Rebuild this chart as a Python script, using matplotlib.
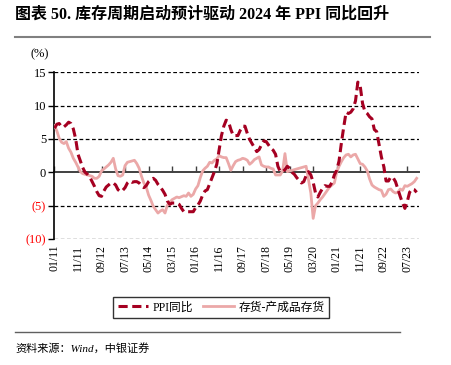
import matplotlib
matplotlib.use("Agg")
import matplotlib.pyplot as plt
import numpy as np

plt.rcParams['font.family'] = ['Liberation Serif', 'Noto Sans CJK SC']
plt.rcParams['axes.unicode_minus'] = False

# ---------------- data ----------------
start_month = "2011-01"
ppi = [6.6, 7.2, 7.3, 6.8, 6.8, 7.1, 7.5, 7.3, 6.5, 5.0, 2.7, 1.7,
       0.7, 0.0, -0.3, -0.7, -1.4, -2.1, -2.9, -3.5, -3.6, -2.8, -2.2, -1.9,
       -1.6, -1.6, -1.9, -2.6, -2.9, -2.7, -2.3, -1.6, -1.3, -1.5, -1.4, -1.4,
       -1.6, -2.0, -2.3, -2.0, -1.4, -1.1, -0.9, -1.2, -1.8, -2.2, -2.7, -3.3,
       -4.3, -4.8, -4.6, -4.6, -4.6, -4.8, -5.4, -5.9, -5.9, -5.9, -5.9, -5.9,
       -5.3, -4.9, -4.3, -3.4, -2.8, -2.6, -1.7, -0.8, 0.1, 1.2, 3.3, 5.5,
       6.9, 7.8, 7.6, 6.4, 5.5, 5.5, 5.5, 6.3, 6.9, 6.9, 5.8, 4.9,
       4.3, 3.7, 3.1, 3.4, 4.1, 4.7, 4.6, 4.1, 3.6, 3.3, 2.7, 0.9,
       0.1, 0.1, 0.4, 0.9, 0.6, 0.0, -0.3, -0.8, -1.2, -1.6, -1.4, -0.5,
       0.1, -0.4, -1.5, -3.1, -3.7, -3.0, -2.4, -2.0, -2.1, -2.1, -1.5, -0.4,
       0.3, 1.7, 4.4, 6.8, 9.0, 8.8, 9.0, 9.5, 10.7, 13.5, 12.9, 10.3,
       9.1, 8.8, 8.3, 8.0, 6.4, 6.1, 4.2, 2.3, 0.9, -1.3, -1.3, -0.7,
       -0.8, -1.4, -2.5, -3.6, -4.6, -5.4, -4.4, -3.0, -2.5, -2.6, -3.0]

inventory = [7.0, 6.2, 5.1, 4.5, 4.3, 4.6, 3.6, 3.0, 2.1, 1.5, 0.8, 0.1,
             -0.2, -0.3, -0.4, -0.5, -0.6, -0.9, -0.9, -0.6, 0.2, 0.5, 0.8, 1.1,
             1.5, 2.1, 0.5, -0.5, -0.6, -0.4, 1.0, 1.5, 1.6, 1.7, 1.8, 1.3,
             0.6, -0.6, -1.6, -2.2, -3.4, -4.2, -5.1, -5.6, -6.1, -5.8, -5.6, -6.1,
             -4.9, -4.5, -4.1, -3.9, -3.7, -3.8, -3.65, -3.5, -3.6, -3.1, -3.6, -3.3,
             -2.5, -2.0, -0.8, 0.2, 0.6, 0.9, 1.5, 1.4, 1.8, 2.0, 2.5, 2.3,
             2.2, 2.2, 1.3, 0.3, 1.0, 1.6, 1.8, 1.9, 2.1, 2.0, 1.8, 1.2,
             1.5, 1.9, 2.1, 2.3, 1.1, 0.9, 0.8, 0.8, 0.6, 0.5, -0.4, -0.4,
             -0.4, 0.2, 2.8, 0.1, 0.2, 0.3, 0.4, 0.5, 0.6, 0.7, 0.8, 0.9,
             -1.1, -3.1, -6.9, -5.0, -4.6, -4.1, -3.7, -3.2, -2.7, -2.2, -1.9, -1.6,
             0.0, 0.9, 1.6, 2.2, 2.6, 2.7, 2.3, 2.6, 2.7, 2.0, 1.3, 1.2,
             0.8, 0.2, -1.0, -1.9, -2.2, -2.4, -2.6, -2.7, -3.6, -3.3, -2.6, -2.5,
             -2.9, -3.1, -3.0, -2.5, -2.7, -2.0, -2.1, -1.9, -1.7, -1.4, -0.9]

xtick_labels = ["01/11", "11/11", "09/12", "07/13", "05/14", "03/15", "01/16", "11/16",
                "09/17", "07/18", "05/19", "03/20", "01/21", "11/21", "09/22", "07/23"]
ytick_values = [15, 10, 5, 0, -5, -10]
ytick_labels = ["15", "10", "5", "0", "(5)", "(10)"]
series_names = ["PPI同比", "存货-产成品存货"]
title = "图表 50. 库存周期启动预计驱动 2024 年 PPI 同比回升"
source = "资料来源：Wind，中银证券"

# ---------------- plot ----------------
months = np.arange(len(ppi))
fig = plt.figure(figsize=(4.52, 3.65), dpi=100)
ax = fig.add_axes([54.5/452, 1-239.1/365, (419-54.5)/452, (239.1-72.1)/365])

ppi_color = "#A50021"
inv_color = "#EBA8A8"

ax.plot(np.arange(len(inventory)), inventory, color=inv_color, lw=2.0, zorder=3,
        label=series_names[1])
ax.plot(months, ppi, color=ppi_color, lw=2.2, dashes=(3.0, 1.5), zorder=4,
        label=series_names[0])

ax.set_xlim(0, 155)
ax.set_ylim(-10, 15)

# grid
for v in ytick_values:
    if v != 0:
        ax.axhline(v, color="black", lw=0.9, ls=(0, (3, 2)), zorder=1)

# spines
for s in ["top", "right"]:
    ax.spines[s].set_visible(False)
ax.spines["left"].set_color("black")
ax.spines["left"].set_linewidth(1.2)
ax.spines["bottom"].set_position(("data", 0))
ax.spines["bottom"].set_color("#404040")
ax.spines["bottom"].set_linewidth(1.4)
ax.spines["bottom"].set_zorder(2)

tick_pos = np.arange(len(xtick_labels)) * 10
ax.set_xticks(tick_pos)
ax.tick_params(axis="x", direction="in", length=4, width=1, color="#404040",
               labelbottom=False)

sec = ax.secondary_xaxis("bottom")
sec.set_xticks(tick_pos, labels=xtick_labels, rotation=90)
sec.tick_params(length=0, pad=4, labelsize=8.5)
sec.spines["bottom"].set_visible(False)

ax.set_yticks(ytick_values, labels=ytick_labels)
ax.tick_params(axis="y", direction="out", length=4, width=1, labelsize=9, pad=2)
for lbl, v in zip(ax.get_yticklabels(), ytick_values):
    lbl.set_color("#FF0000" if v < 0 else "black")

fig.text(40/452, 1-54/365, "(%)", ha="center", va="center", fontsize=9)

# legend
h, l = ax.get_legend_handles_labels()
leg = fig.legend([h[1], h[0]], [l[1], l[0]], loc="center", bbox_to_anchor=(221/452, 1-307.5/365),
                 ncol=2, frameon=True, fancybox=False, edgecolor="black", fontsize=8.5,
                 handlelength=2.6, columnspacing=0.8, handletextpad=0.4, borderpad=0.35)
leg.get_frame().set_linewidth(1.0)

# title and lines
fig.text(15/452, 1-15/365, title, ha="left", va="center", fontsize=11.5, fontweight="bold")
fig.add_artist(plt.Line2D([15/452, 430/452], [1-37/365, 1-37/365], color="#808080", lw=1.5))
fig.add_artist(plt.Line2D([15/452, 400/452], [1-332/365, 1-332/365], color="#606060", lw=1.0))
fig.text(15/452, 1-348/365, source, ha="left", va="center", fontsize=8, style="italic")

fig.savefig("out.png", dpi=100)
